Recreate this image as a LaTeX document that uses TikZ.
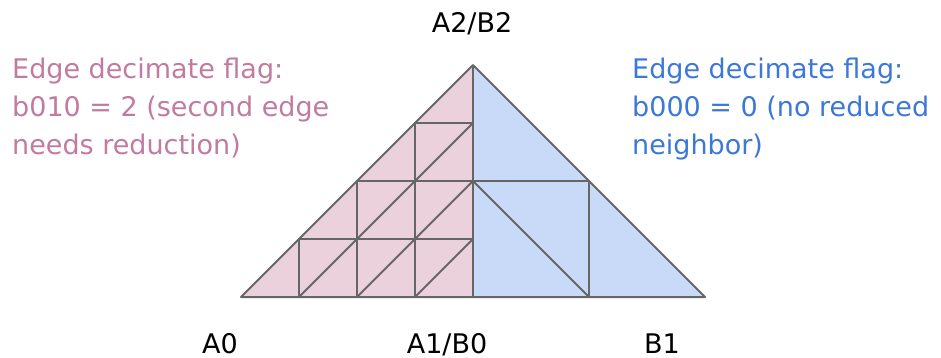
\documentclass[tikz,border=0pt]{standalone}
\usepackage{fontspec}
\setmainfont{DejaVu Sans}
\usetikzlibrary{calc}
\definecolor{meshgray}{HTML}{666666}
\definecolor{pinkfill}{HTML}{EAD1DC}
\definecolor{bluefill}{HTML}{C9DAF8}
\definecolor{pinktext}{HTML}{C27BA0}
\definecolor{bluetext}{HTML}{3C78D8}
\tikzset{
  mesh/.style={draw=meshgray, line width=2pt, line join=round},
  vertexlabel/.style={anchor=base, inner sep=0pt, font=\fontsize{27}{34}\selectfont},
  flagtext/.style={anchor=base west, inner sep=0pt, align=left, font=\fontsize{27}{38}\selectfont}
}
\begin{document}
\begin{tikzpicture}[x=1pt, y=-1pt, >=latex]
            \useasboundingbox (0,0) rectangle (941,358);

            % ==== CORNERS ====
            \coordinate (A0) at (241,297);
            \coordinate (A1) at (473,297);
            \coordinate (A2) at (473,65);
            \coordinate (B1) at (705,297);
            \coordinate (midA) at ($(A1)!0.5!(A2)$);
            \coordinate (midB) at ($(A1)!0.5!(B1)$);

            % ==== SHADING ====
            \fill[pinkfill] (A0) -- (A1) -- (A2) -- cycle;
            \fill[bluefill] (A1) -- (B1) -- (A2) -- cycle;

            % ==== LEFT GRID (level 4) ====
            \foreach \k in {1,2,3} {
                \draw[mesh] ($(A0)!\k/4!(A1)$) -- ($(A0)!\k/4!(A2)$) -- ($(A1)!\k/4!(A2)$);
                \draw[mesh] ($(A0)!\k/4!(A1)$) -- ($(A1)!{1-\k/4}!(A2)$);
            }

            % ==== RIGHT GRID (level 2) ====
            \draw[mesh] (midA) rectangle (midB);
            \draw[mesh] (midA) -- (midB);

            % ==== OUTLINES ====
            \draw[mesh] (A0) -- (B1) -- (A2) -- cycle;
            \draw[mesh] (A1) -- (A2);

            % ==== LABELS ====
            \node[vertexlabel] (labA0) at (220,353) {A0};
            \node[vertexlabel] (labA1) at (447,353) {A1/B0};
            \node[vertexlabel] (labB1) at (662,353) {B1};
            \node[vertexlabel] (labA2) at (472,33) {A2/B2};

            % last line sits on the anchor
            \node[flagtext, text=pinktext] (flagA) at (12,155)
                {Edge decimate flag:\\b010 = 2 (second edge\\needs reduction)};
            \node[flagtext, text=bluetext] (flagB) at (632,155)
                {Edge decimate flag:\\b000 = 0 (no reduced\\neighbor)};
        \end{tikzpicture}
\end{document}
